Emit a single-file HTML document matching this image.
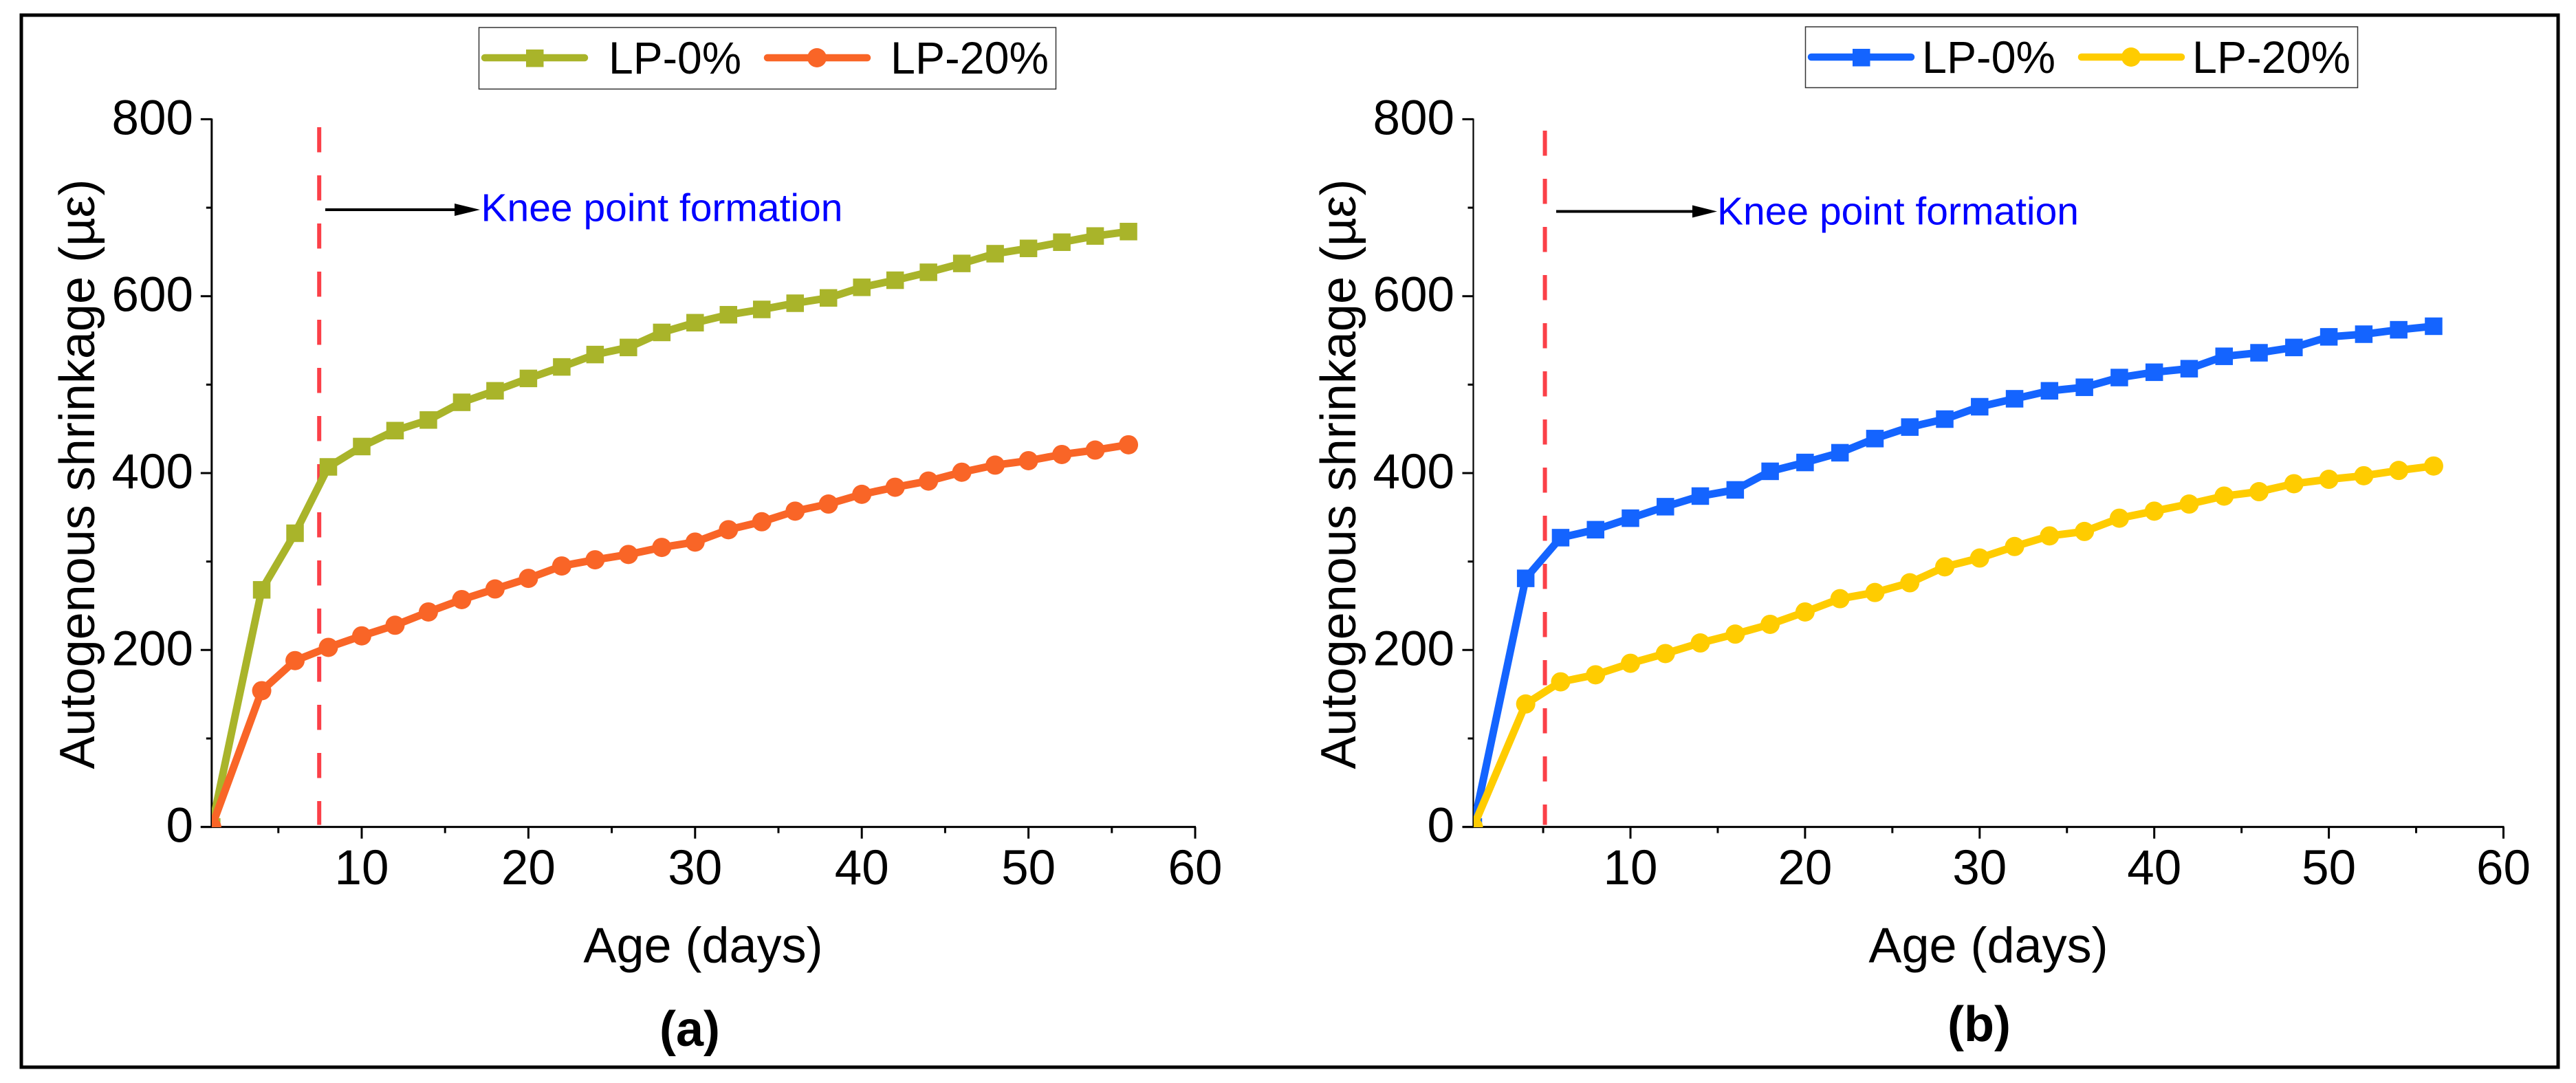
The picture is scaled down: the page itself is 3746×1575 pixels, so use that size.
<!DOCTYPE html>
<html lang="en">
<head>
<meta charset="utf-8">
<title>Autogenous shrinkage vs age</title>
<style>
html,body{margin:0;padding:0;background:#fff;}
svg{display:block;}
text{font-family:"Liberation Sans",sans-serif;fill:#000;}
</style>
</head>
<body>
<svg id="figure" xmlns="http://www.w3.org/2000/svg" width="3746" height="1575" viewBox="0 0 3746 1575">
  <defs>
    <clipPath id="clip-a"><rect x="308" y="150" width="1430" height="1053"/></clipPath>
    <clipPath id="clip-b"><rect x="2143" y="150" width="1498" height="1053"/></clipPath>
  </defs>
  <rect x="0" y="0" width="3746" height="1575" fill="#fff"/>
  <rect x="31" y="22" width="3689" height="1530" fill="none" stroke="#000" stroke-width="5"/>

  <g id="panel-a"></g>
  <g id="panel-b"></g>

  <text x="0" y="0" transform="translate(137 689.5) rotate(-90)" text-anchor="middle" font-size="72">Autogenous shrinkage (µε)</text>
  <text x="1022.5" y="1399.5" text-anchor="middle" font-size="72">Age (days)</text>
  <text x="1003" y="1521" text-anchor="middle" font-size="72" font-weight="bold">(a)</text>

  <text x="0" y="0" transform="translate(1971 689.5) rotate(-90)" text-anchor="middle" font-size="72">Autogenous shrinkage (µε)</text>
  <text x="2891.5" y="1399.5" text-anchor="middle" font-size="72">Age (days)</text>
  <text x="2878" y="1514" text-anchor="middle" font-size="72" font-weight="bold">(b)</text>

  <g>
    <rect x="696.5" y="40" width="839" height="89.5" fill="#fff" stroke="#333" stroke-width="1.5"/>
    <g>
      <line x1="705" y1="84" x2="850" y2="84" stroke="#a9b42a" stroke-width="10.5" stroke-linecap="round"/>
      <rect x="765" y="72" width="25.5" height="25.5" fill="#a9b42a"/>
      <text x="885" y="107" font-size="66" textLength="193" lengthAdjust="spacingAndGlyphs">LP-0%</text>
    </g>
    <g>
      <line x1="1116" y1="84" x2="1261" y2="84" stroke="#f96527" stroke-width="10.5" stroke-linecap="round"/>
      <circle cx="1188" cy="84" r="14" fill="#f96527"/>
      <text x="1295" y="107" font-size="66" textLength="230" lengthAdjust="spacingAndGlyphs">LP-20%</text>
    </g>
  </g>

  <g>
    <rect x="2625.5" y="39" width="803" height="88.5" fill="#fff" stroke="#333" stroke-width="1.5"/>
    <g>
      <line x1="2634" y1="83" x2="2779" y2="83" stroke="#1464ff" stroke-width="10.5" stroke-linecap="round"/>
      <rect x="2694" y="71" width="25.5" height="25.5" fill="#1464ff"/>
      <text x="2795" y="106" font-size="66" textLength="194" lengthAdjust="spacingAndGlyphs">LP-0%</text>
    </g>
    <g>
      <line x1="3027" y1="83" x2="3172" y2="83" stroke="#ffcc00" stroke-width="10.5" stroke-linecap="round"/>
      <circle cx="3099" cy="83" r="14" fill="#ffcc00"/>
      <text x="3188" y="106" font-size="66" textLength="230" lengthAdjust="spacingAndGlyphs">LP-20%</text>
    </g>
  </g>

  <g>
    <line x1="473" y1="305" x2="665" y2="305" stroke="#000" stroke-width="4"/>
    <polygon points="661,296 698,305 661,314" fill="#000"/>
    <text x="699.5" y="321.5" font-size="57" style="fill:#0000ff">Knee point formation</text>
  </g>
  <g>
    <line x1="2263" y1="307.5" x2="2465" y2="307.5" stroke="#000" stroke-width="4"/>
    <polygon points="2461,298.5 2497,307.5 2461,316.5" fill="#000"/>
    <text x="2497" y="326.5" font-size="57" style="fill:#0000ff">Knee point formation</text>
  </g>
</svg>

<script>
// Shared categories and tick labels
const ages = [1, 4, 6, 8, 10, 12, 14, 16, 18, 20, 22, 24, 26, 28, 30, 32, 34, 36, 38, 40, 42, 44, 46, 48, 50, 52, 54, 56];
const xTickValues = [10, 20, 30, 40, 50, 60];
const xMinorTickValues = [5, 15, 25, 35, 45, 55];
const yTickValues = [0, 200, 400, 600, 800];
const yMinorTickValues = [100, 300, 500, 700];

// Panel (a) series
const panelAlp0 = [0, 268, 332, 407, 430, 448, 460, 480, 493, 507, 520, 534, 542, 559, 570, 579, 585, 592, 598, 610, 618, 627, 637, 648, 654, 661, 668, 673];
const panelAlp20 = [0, 154, 188, 203, 216, 228, 243, 257, 269, 281, 295, 302, 308, 316, 322, 336, 345, 357, 365, 376, 384, 391, 401, 409, 414, 421, 426, 432];
const panelAknee = 7.45;

// Panel (b) series
const panelBlp0 = [0, 281, 327, 336, 349, 362, 374, 381, 402, 412, 423, 439, 452, 461, 475, 484, 493, 497, 508, 514, 518, 532, 536, 542, 554, 557, 562, 566];
const panelBlp20 = [0, 139, 164, 172, 185, 196, 208, 218, 229, 243, 258, 265, 276, 294, 304, 317, 329, 334, 349, 357, 365, 374, 379, 388, 393, 397, 403, 408];
const panelBknee = 5.1;

const NS = 'http://www.w3.org/2000/svg';

function make(tag, attrs, parent) {
  const node = document.createElementNS(NS, tag);
  for (const key in attrs) node.setAttribute(key, attrs[key]);
  parent.appendChild(node);
  return node;
}

function drawPanel(cfg) {
  const root = document.getElementById(cfg.rootId);
  const xScale = function (v) { return cfg.x10 + (v - 10) * cfg.pxPerDay; };
  const yScale = function (v) { return 1202.6 - v * 1.2865; };

  // Knee-point dashed marker, behind the series
  const knee = make('line', {
    x1: xScale(cfg.knee), y1: cfg.kneeTop, x2: xScale(cfg.knee), y2: yScale(0) - 3,
    stroke: '#fb4048', 'stroke-width': 6, 'stroke-dasharray': '36.5 33.5'
  }, root);
  
  

  // Axes
  const axisY = make('line', {
    x1: xScale(1), y1: yScale(800) - 1, x2: xScale(1), y2: yScale(0),
    stroke: '#000', 'stroke-width': cfg.axisWidth
  }, root);
  
  

  const axisX = make('line', {
    x1: xScale(1) - 16, y1: yScale(0), x2: xScale(60) + 1, y2: yScale(0),
    stroke: '#000', 'stroke-width': 3
  }, root);
  
  

  yTickValues.forEach(function (v) {
    const tick = make('line', {
      x1: xScale(1) - 16, y1: yScale(v), x2: xScale(1), y2: yScale(v),
      stroke: '#000', 'stroke-width': 3
    }, root);
    
    
    const label = make('text', {
      x: cfg.yLabelRight, y: yScale(v) + 22, 'text-anchor': 'end', 'font-size': 71
    }, root);
    label.textContent = String(v);
    
    
  });

  yMinorTickValues.forEach(function (v) {
    const tick = make('line', {
      x1: xScale(1) - 8, y1: yScale(v), x2: xScale(1), y2: yScale(v),
      stroke: '#000', 'stroke-width': 3
    }, root);
    
    
  });

  xTickValues.forEach(function (v) {
    const tick = make('line', {
      x1: xScale(v), y1: yScale(0), x2: xScale(v), y2: yScale(0) + 17,
      stroke: '#000', 'stroke-width': 3
    }, root);
    
    
    const label = make('text', {
      x: xScale(v), y: 1286, 'text-anchor': 'middle', 'font-size': 71
    }, root);
    label.textContent = String(v);
    
    
  });

  xMinorTickValues.forEach(function (v) {
    const tick = make('line', {
      x1: xScale(v), y1: yScale(0), x2: xScale(v), y2: yScale(0) + 9,
      stroke: '#000', 'stroke-width': 3
    }, root);
    
    
  });

  // Series
  cfg.series.forEach(function (s) {
    const group = make('g', { 'clip-path': 'url(#' + cfg.clipId + ')' }, root);
    
    

    const pts = ages.map(function (a, i) { return xScale(a) + ',' + yScale(s.values[i]); }).join(' ');
    const line = make('polyline', {
      points: pts, fill: 'none', stroke: s.color, 'stroke-width': 11, 'stroke-linejoin': 'round'
    }, group);
    
    

    ages.forEach(function (a, i) {
      const cx = xScale(a);
      const cy = yScale(s.values[i]);
      let mark;
      if (s.marker === 'square') {
        mark = make('rect', { x: cx - 12.75, y: cy - 12.75, width: 25.5, height: 25.5, fill: s.color }, group);
      } else {
        mark = make('circle', { cx: cx, cy: cy, r: 14, fill: s.color }, group);
      }
      
      
    });
  });
}

drawPanel({
  rootId: 'panel-a', clipId: 'clip-a', x10: 526, pxPerDay: 24.24, knee: panelAknee, kneeTop: 185,
  axisWidth: 3, yLabelRight: 281,
  series: [
    { name: 'series-a-lp-0', values: panelAlp0, color: '#a9b42a', marker: 'square' },
    { name: 'series-a-lp-20', values: panelAlp20, color: '#f96527', marker: 'circle' }
  ]
});

drawPanel({
  rootId: 'panel-b', clipId: 'clip-b', x10: 2371, pxPerDay: 25.39, knee: panelBknee, kneeTop: 190,
  axisWidth: 2.2, yLabelRight: 2115,
  series: [
    { name: 'series-b-lp-0', values: panelBlp0, color: '#1464ff', marker: 'square' },
    { name: 'series-b-lp-20', values: panelBlp20, color: '#ffcc00', marker: 'circle' }
  ]
});
</script>
</body>
</html>
